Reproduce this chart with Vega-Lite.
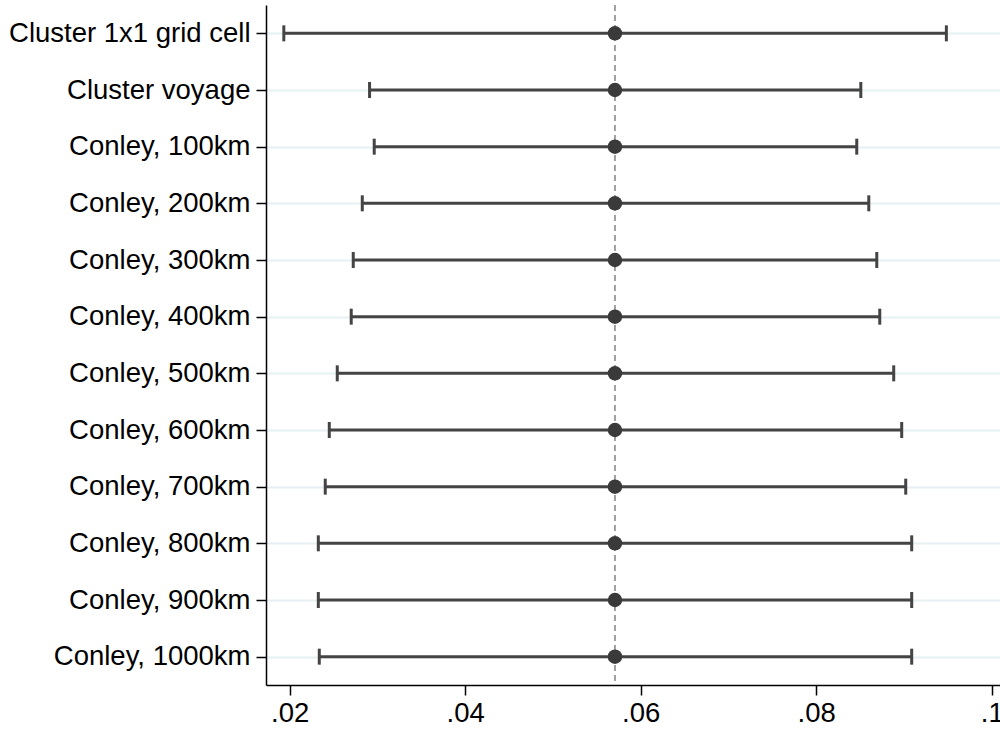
{
  "$schema": "https://vega.github.io/schema/vega-lite/v6.json",
  "width": 734,
  "height": 680,
  "autosize": {"type": "none"},
  "padding": {"left": 266, "top": 5, "right": 0, "bottom": 46},
  "background": "white",
  "config": {
    "view": {"stroke": null},
    "font": "Liberation Sans"
  },
  "data": {
    "values": [
      {"spec": "Cluster 1x1 grid cell", "est": 0.05707, "lo": 0.01934, "hi": 0.09483},
      {"spec": "Cluster voyage", "est": 0.05707, "lo": 0.02911, "hi": 0.08508},
      {"spec": "Conley, 100km", "est": 0.05707, "lo": 0.02964, "hi": 0.08462},
      {"spec": "Conley, 200km", "est": 0.05707, "lo": 0.02828, "hi": 0.08599},
      {"spec": "Conley, 300km", "est": 0.05707, "lo": 0.02725, "hi": 0.08690},
      {"spec": "Conley, 400km", "est": 0.05707, "lo": 0.02702, "hi": 0.08724},
      {"spec": "Conley, 500km", "est": 0.05707, "lo": 0.02543, "hi": 0.08883},
      {"spec": "Conley, 600km", "est": 0.05707, "lo": 0.02452, "hi": 0.08974},
      {"spec": "Conley, 700km", "est": 0.05707, "lo": 0.02406, "hi": 0.09020},
      {"spec": "Conley, 800km", "est": 0.05707, "lo": 0.02327, "hi": 0.09088},
      {"spec": "Conley, 900km", "est": 0.05707, "lo": 0.02327, "hi": 0.09088},
      {"spec": "Conley, 1000km", "est": 0.05707, "lo": 0.02338, "hi": 0.09088}
    ]
  },
  "encoding": {
    "y": {
      "field": "spec",
      "type": "nominal",
      "sort": null,
      "scale": {"type": "point", "padding": 0.5},
      "axis": {
        "title": null,
        "labelFontSize": 27.5,
        "labelColor": "#000000",
        "labelPadding": 6,
        "labelLimit": 0,
        "tickSize": 10,
        "tickColor": "#000000",
        "tickWidth": 1.5,
        "domainColor": "#000000",
        "domainWidth": 1.5,
        "grid": true,
        "gridColor": "#e6f0f2",
        "gridWidth": 2
      }
    }
  },
  "layer": [
    {
      "data": {"values": [{"ref": 0.05707}]},
      "mark": {"type": "rule", "color": "#a0a0a0", "strokeWidth": 2, "strokeDash": [6, 4]},
      "encoding": {
        "x": {"field": "ref", "type": "quantitative"},
        "y": null
      }
    },
    {
      "mark": {"type": "rule", "color": "#444444", "strokeWidth": 3},
      "encoding": {
        "x": {
          "field": "lo",
          "type": "quantitative",
          "scale": {"domain": [0.01731, 0.10094], "nice": false, "zero": false},
          "axis": {
            "title": null,
            "values": [0.02, 0.04, 0.06, 0.08, 0.1],
            "labelExpr": "substring(format(datum.value, '.2~f'), 1)",
            "labelFontSize": 27.5,
            "labelColor": "#000000",
            "labelPadding": 4,
            "labelFlush": false,
            "labelOverlap": false,
            "tickSize": 10,
            "tickColor": "#000000",
            "tickWidth": 1.5,
            "domainColor": "#000000",
            "domainWidth": 1.5,
            "grid": false
          }
        },
        "x2": {"field": "hi"}
      }
    },
    {
      "mark": {"type": "tick", "color": "#444444", "opacity": 1, "thickness": 3, "size": 16, "orient": "vertical"},
      "encoding": {"x": {"field": "lo", "type": "quantitative"}}
    },
    {
      "mark": {"type": "tick", "color": "#444444", "opacity": 1, "thickness": 3, "size": 16, "orient": "vertical"},
      "encoding": {"x": {"field": "hi", "type": "quantitative"}}
    },
    {
      "mark": {"type": "point", "filled": true, "shape": "circle", "color": "#3a3a3a", "opacity": 1, "size": 210},
      "encoding": {"x": {"field": "est", "type": "quantitative"}}
    }
  ]
}
